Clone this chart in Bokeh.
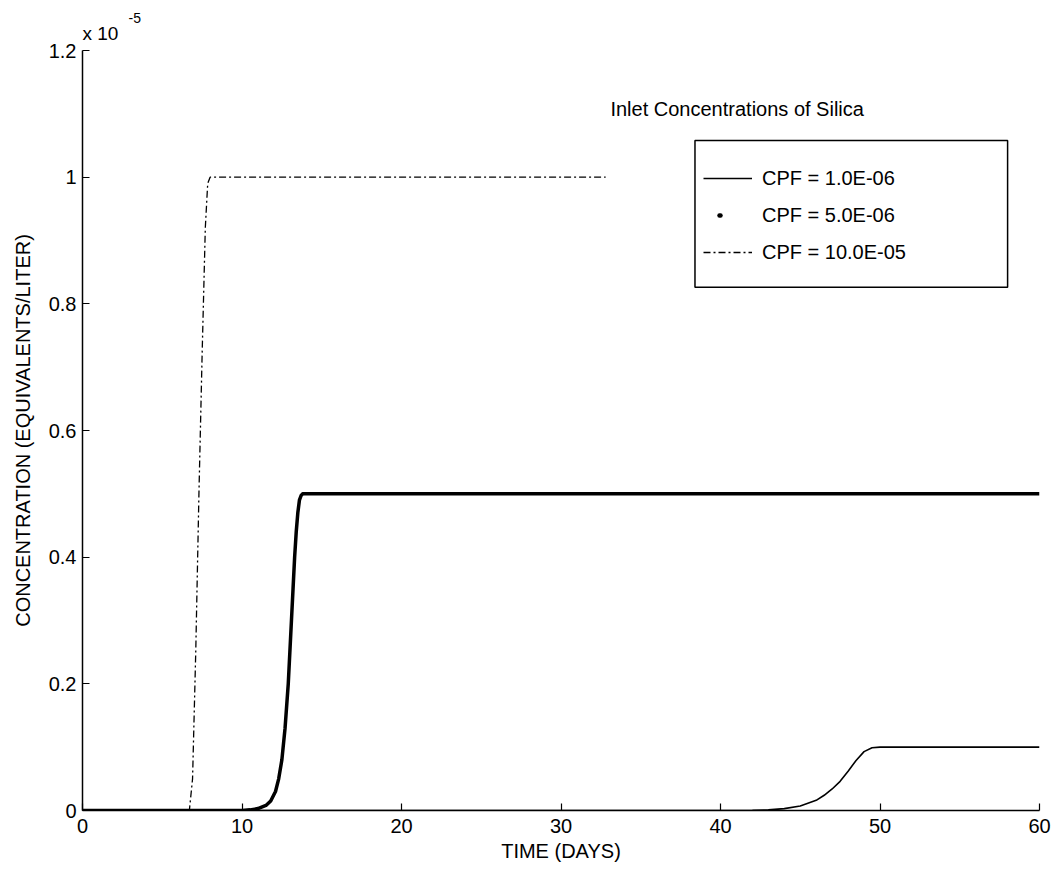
from bokeh.plotting import figure
from bokeh.models import Range1d, FixedTicker, Label, Legend, LegendItem, BoxAnnotation, Title
from bokeh.embed import file_html
from bokeh.resources import INLINE

# ---- data (concentration in units of 1e-5 equivalents/liter) ----
days_1 = [0, 40, 42, 43, 44, 45, 46, 46.5, 47, 47.5, 48, 48.5, 49, 49.5, 50, 60]
conc_1 = [0, 0, 0.0005, 0.001, 0.003, 0.007, 0.016, 0.024, 0.034, 0.046, 0.062, 0.079, 0.093, 0.099, 0.1, 0.1]

days_5 = [0, 10, 10.5, 11.0, 11.5, 11.8, 12.1, 12.3, 12.5, 12.7, 12.9, 13.0, 13.1, 13.2,
          13.3, 13.4, 13.5, 13.6, 13.7, 13.8, 14.0, 60]
conc_5 = [0, 0, 0.001, 0.003, 0.008, 0.015, 0.03, 0.05, 0.08, 0.13, 0.2, 0.25, 0.3, 0.35,
          0.4, 0.44, 0.47, 0.49, 0.497, 0.5, 0.5, 0.5]

days_10 = [0, 6.7, 6.9, 7.1, 7.3, 7.5, 7.7, 7.85, 8.0, 32.8]
conc_10 = [0, 0, 0.05, 0.25, 0.5, 0.72, 0.92, 0.99, 1.0, 1.0]

labels = ["CPF = 1.0E-06", "CPF = 5.0E-06", "CPF = 10.0E-05"]
y_ticks = [0, 0.2, 0.4, 0.6, 0.8, 1.0, 1.2]
y_tick_labels = ["0", "0.2", "0.4", "0.6", "0.8", "1", "1.2"]
x_ticks = [0, 10, 20, 30, 40, 50, 60]

FONT = "Liberation Sans"

p = figure(width=1058, height=876, output_backend="svg", toolbar_location=None, title=None,
           x_range=Range1d(0, 60), y_range=Range1d(0, 1.2),
           min_border_left=82, min_border_right=19, min_border_top=50, min_border_bottom=66)
p.outline_line_color = None
p.grid.visible = False
p.background_fill_color = "white"
p.border_fill_color = "white"

for ax in (p.xaxis[0], p.yaxis[0]):
    ax.axis_line_color = "black"
    ax.axis_line_width = 1.5
    ax.major_tick_in = 7
    ax.major_tick_out = 0
    ax.major_tick_line_color = "black"
    ax.major_tick_line_width = 1.2
    ax.minor_tick_line_color = None
    ax.major_label_text_font = FONT
    ax.major_label_text_font_size = "20px"
    ax.major_label_text_color = "black"
    ax.axis_label_text_font = FONT
    ax.axis_label_text_font_size = "20px"
    ax.axis_label_text_font_style = "normal"
    ax.axis_label_text_color = "black"

p.xaxis.ticker = FixedTicker(ticks=x_ticks)
p.yaxis.ticker = FixedTicker(ticks=y_ticks)
p.yaxis.major_label_overrides = {t: l for t, l in zip(y_ticks, y_tick_labels)}
p.xaxis.axis_label = "TIME (DAYS)"
p.yaxis.axis_label = "CONCENTRATION (EQUIVALENTS/LITER)"
p.xaxis.major_label_standoff = 8
p.xaxis.axis_label_standoff = 4
p.yaxis.major_label_standoff = 6
p.yaxis.axis_label_standoff = 12

r1 = p.line(days_1, conc_1, line_color="black", line_width=1.6)
p.line(days_5, conc_5, line_color="black", line_width=3.5, line_join="round")
# legend-only renderer: draws a single small dot in the legend
r2 = p.line(days_5, conc_5, line_color="black", line_width=4.5, line_cap="round",
            line_dash="1 300", line_dash_offset=285, visible=False)
r3 = p.line(days_10, conc_10, line_color="black", line_width=1.3, line_dash="7 3 2 3")

# exponent label above the y axis
p.add_layout(Title(text="x 10", align="left", offset=0, standoff=14, text_font=FONT,
                   text_font_size="19px", text_font_style="normal", text_color="black"), "above")
p.add_layout(Title(text="-5", align="left", offset=46, standoff=-19, text_font=FONT,
                   text_font_size="14px", text_font_style="normal", text_color="black"), "above")

# legend heading and frame
p.add_layout(Label(x=33.1, y=1.108, text="Inlet Concentrations of Silica", text_font=FONT,
                   text_font_size="20px", text_color="black", text_baseline="middle"))
p.add_layout(BoxAnnotation(left=38.4, right=58.0, bottom=0.826, top=1.058,
                           fill_alpha=0, line_color="black", line_alpha=1, line_width=1.5))

legend = Legend(items=[LegendItem(label=labels[0], renderers=[r1]),
                       LegendItem(label=labels[1], renderers=[r2]),
                       LegendItem(label=labels[2], renderers=[r3])],
                location=(621, 546), orientation="vertical",
                border_line_color=None, background_fill_alpha=0,
                padding=0, margin=0, spacing=13,
                glyph_width=49, glyph_height=24, label_height=24,
                label_standoff=10, label_text_font=FONT, label_text_font_size="20px",
                label_text_color="black")
p.add_layout(legend)

open("out.html", "w").write(file_html(p, INLINE))
